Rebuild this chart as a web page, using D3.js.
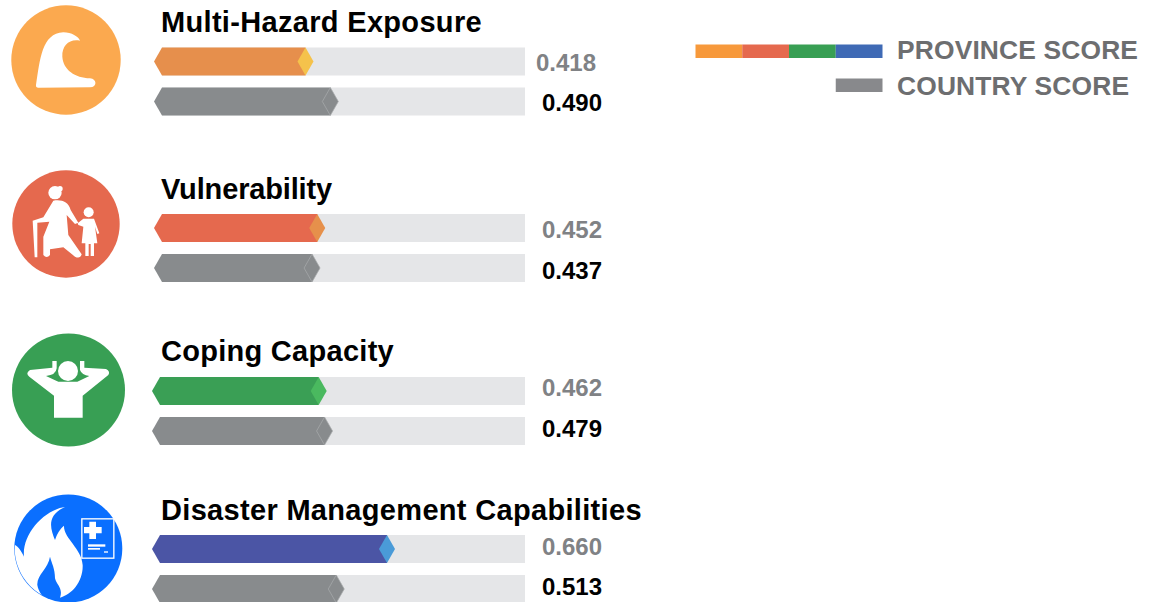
<!DOCTYPE html>
<html lang="en">
<head>
  <meta charset="UTF-8">
  <title>Province and country scores</title>
  <script src="https://d3js.org/d3.v7.min.js"></script>
  <style>
    html, body {
      margin: 0;
      padding: 0;
      background: #fff;
      overflow: hidden;
    }
    svg {
      display: block;
    }
    text {
      font-family: "Liberation Sans", Arial, sans-serif;
      font-weight: bold;
    }
  </style>
</head>
<body>
  <svg id="chart" width="1151" height="602"></svg>

  <script>
    const categories = ["Multi-Hazard Exposure", "Vulnerability", "Coping Capacity", "Disaster Management Capabilities"];
    const provinceScores = [0.418, 0.452, 0.462, 0.660];
    const countryScores = [0.490, 0.437, 0.479, 0.513];
    const legendLabels = ["PROVINCE SCORE", "COUNTRY SCORE"];

    // colours per category
    const barColors = ["#e68f4c", "#e5694e", "#3a9f55", "#4b55a5"];
    const tipColors = ["#f5c24b", "#e6904b", "#4ab95f", "#4a9bd8"];
    const iconColors = ["#fba94f", "#e5694e", "#389f54", "#0a6fff"];
    const legendColors = ["#f7993b", "#e5694e", "#389f54", "#3f6ab5"];
    const gray = "#888b8d";
    const track = "#e5e6e8";

    // layout per row, the rows are not evenly spaced in the original
    const provinceTop = [47.5, 214, 377, 535];
    const countryTop = [87.5, 254, 417, 575];
    const titleBase = [32, 199, 361, 520];
    const titleSpacing = [0.32, -0.15, 0.28, 0.32];
    const provinceBase = [71, 237.5, 395.5, 554.5];
    const countryBase = [111, 278.5, 436.5, 594.5];
    const leftTip = [154, 154, 152, 152];
    const provinceLabelX = [596, 602, 602, 602];
    const icons = [
      { cx: 66, cy: 60, r: 54.7 },
      { cx: 66, cy: 224, r: 53.7 },
      { cx: 68.5, cy: 390, r: 56.5 },
      { cx: 68.3, cy: 548.5, r: 54 }
    ];

    const barH = 28;
    const x = d3.scaleLinear().domain([0, 1]).range([168.3, 513.3]);
    const trackEnd = 525;
    // bars of the lower two rows start a little further left
    const tipX = (v, i) => x(v) + leftTip[i] - 153;

    const svg = d3.select("#chart");

    // hexagon with the flat right end at xr, right point is drawn by the tip
    function barPath(left, xr, top) {
      const p = d3.path();
      p.moveTo(left, top + barH / 2);
      p.lineTo(left + 8, top);
      p.lineTo(xr, top);
      p.lineTo(xr, top + barH);
      p.lineTo(left + 8, top + barH);
      p.closePath();
      return p.toString();
    }

    function tipPath(tx, top) {
      const p = d3.path();
      p.moveTo(tx, top + barH / 2);
      p.lineTo(tx - 8, top);
      p.lineTo(tx - 16, top + barH / 2);
      p.lineTo(tx - 8, top + barH);
      p.closePath();
      return p.toString();
    }

    const rows = svg.selectAll("g.row")
      .data(categories)
      .join("g")
      .attr("class", "row");

    rows.append("text")
      .attr("x", 161)
      .attr("y", (d, i) => titleBase[i])
      .attr("font-size", 29)
      .attr("letter-spacing", (d, i) => titleSpacing[i])
      .attr("fill", "#000")
      .text(d => d);

    function drawBars(tops, values, fill, tipFill, tipStroke) {
      rows.append("rect")
        .attr("x", (d, i) => leftTip[i] + 8)
        .attr("y", (d, i) => tops[i])
        .attr("width", (d, i) => trackEnd - leftTip[i] - 8)
        .attr("height", barH)
        .attr("fill", track);
      rows.append("path")
        .attr("d", (d, i) => barPath(leftTip[i], tipX(values[i], i) - 8, tops[i]))
        .attr("fill", (d, i) => fill(i));
      rows.append("path")
        .attr("d", (d, i) => tipPath(tipX(values[i], i), tops[i]))
        .attr("fill", (d, i) => tipFill(i))
        .attr("stroke", tipStroke)
        .attr("stroke-width", 0.7);
    }

    drawBars(provinceTop, provinceScores, i => barColors[i], i => tipColors[i], "none");
    drawBars(countryTop, countryScores, () => gray, () => gray, "#a9acae");

    rows.append("text")
      .attr("x", (d, i) => provinceLabelX[i])
      .attr("y", (d, i) => provinceBase[i])
      .attr("text-anchor", "end")
      .attr("font-size", 24)
      .attr("fill", "#808285")
      .text((d, i) => d3.format(".3f")(provinceScores[i]));

    rows.append("text")
      .attr("x", 602)
      .attr("y", (d, i) => countryBase[i])
      .attr("text-anchor", "end")
      .attr("font-size", 24)
      .attr("fill", "#000")
      .text((d, i) => d3.format(".3f")(countryScores[i]));

    // legend
    const legendX = d3.scaleLinear().domain([0, 4]).range([695.5, 882.5]);
    svg.selectAll("rect.swatch")
      .data(legendColors)
      .join("rect")
      .attr("class", "swatch")
      .attr("x", (d, i) => legendX(i))
      .attr("y", 44.5)
      .attr("width", legendX(1) - legendX(0))
      .attr("height", 13.5)
      .attr("fill", d => d);
    svg.append("rect")
      .attr("x", legendX(3))
      .attr("y", 78.5)
      .attr("width", legendX(1) - legendX(0))
      .attr("height", 13.5)
      .attr("fill", "#88898c");
    svg.selectAll("text.legend")
      .data(legendLabels)
      .join("text")
      .attr("class", "legend")
      .attr("x", 897)
      .attr("y", (d, i) => 59 + i * 36)
      .attr("font-size", 26.4)
      .attr("letter-spacing", 0.15)
      .attr("fill", "#6d6e70")
      .text(d => d);

    // icons, glyphs at 3x
    const glyphs = svg.append("g");
    const defs = svg.append("defs");
    icons.forEach((c, i) => {
      glyphs.append("circle")
        .attr("cx", c.cx).attr("cy", c.cy).attr("r", c.r)
        .attr("fill", iconColors[i]);
    });

    function glyph(oy) {
      return glyphs.append("g")
        .attr("transform", `translate(0,${oy}) scale(${1 / 3})`)
        .attr("fill", "#fff");
    }

    // wave
    glyph(0).append("path")
      .attr("d", "M108 255C120 180 125 100 190 97C215 97 235 110 240 122C210 115 185 135 187 170C190 210 225 233 270 235C292 237 292 262 270 262L115 263Q107 263 108 255Z");

    // elder and child
    const elder = glyph(160);
    elder.append("circle").attr("cx", 165).attr("cy", 98).attr("r", 20);
    elder.append("circle").attr("cx", 180).attr("cy", 86).attr("r", 8);
    elder.append("circle").attr("cx", 266).attr("cy", 157).attr("r", 15);
    elder.append("path")
      .attr("d", "M160 122C185 118 205 125 212 150L235 188L225 192L200 165L205 225L245 283Q240 298 225 290L190 262L150 268L150 285Q140 297 130 285L130 230L148 185L112 188L112 292L104 292L98 182L130 172Z");
    elder.append("path")
      .attr("d", "M250 176L282 176L298 220L292 222L285 200L292 250L282 250L282 288L272 288L272 252L266 252L266 288L256 288L256 250L245 250L250 200L235 195L233 190Z");

    // relaxed person
    const relaxed = glyph(325);
    relaxed.append("circle").attr("cx", 204).attr("cy", 138).attr("r", 30);
    relaxed.append("path")
      .attr("d", "M162 278L248 278L248 212L325 150Q332 140 318 132L253 128L253 108L240 108L240 135Q245 150 268 153L232 170L175 170L138 153Q168 150 170 130L170 108L157 108L157 128L90 135Q75 145 88 155L162 212Z");

    // flame and medical sheet
    defs.append("clipPath").attr("id", "icon-clip")
      .append("circle").attr("cx", 205).attr("cy", 190).attr("r", 161);
    const flame = glyph(485);
    flame.append("path")
      .attr("clip-path", "url(#icon-clip)")
      .attr("d", "M195 66C140 90 150 130 165 165C170 150 180 130 192 122C190 160 245 190 248 240C250 290 215 330 180 338C190 310 170 300 165 280C165 250 155 235 150 215C145 250 110 270 112 300C115 320 130 340 150 352L100 330C60 290 30 240 45 180C55 185 65 200 72 215C65 150 130 75 195 66Z");
    flame.append("rect")
      .attr("x", 245.5).attr("y", 101.5).attr("width", 96).attr("height", 118)
      .attr("fill", iconColors[3]).attr("stroke", "#fff").attr("stroke-width", 4);
    flame.append("path")
      .attr("d", "M268 110L288 110L288 126L305 126L305 145L288 145L288 162L268 162L268 145L252 145L252 126L268 126Z");
    flame.append("rect").attr("x", 264).attr("y", 178).attr("width", 52).attr("height", 7);
    flame.append("rect").attr("x", 264).attr("y", 189).attr("width", 36).attr("height", 5);
    flame.append("rect").attr("x", 312).attr("y", 199).attr("width", 12).attr("height", 4);
  </script>
</body>
</html>
